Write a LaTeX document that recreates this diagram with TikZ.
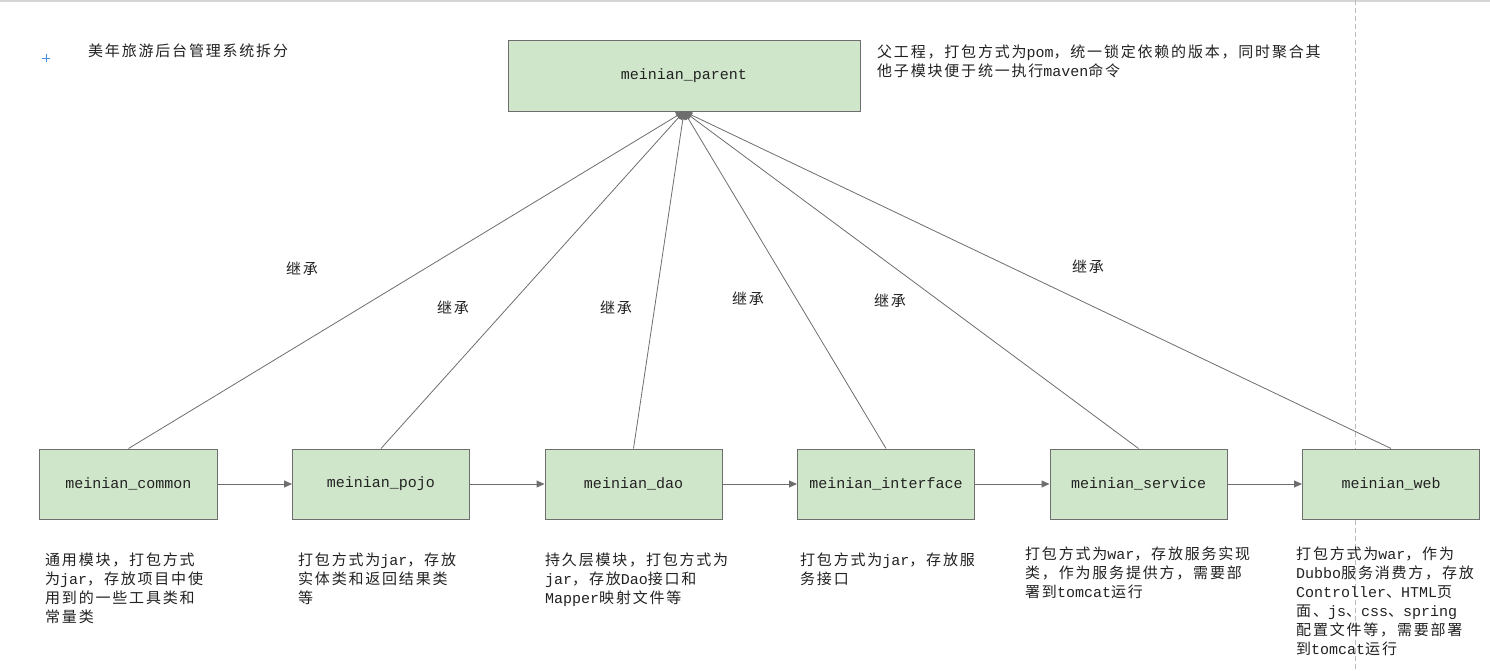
\documentclass[tikz,border=0pt]{standalone}
\usepackage{fontspec}
\setmainfont[LetterSpace=12]{Noto Sans CJK SC}
\newfontfamily\enf{Liberation Mono}
\usetikzlibrary{arrows.meta}
\definecolor{boxfill}{HTML}{D0E6CA}
\definecolor{boxline}{HTML}{6E6E6E}
\definecolor{txt}{HTML}{222222}
\definecolor{guide}{HTML}{BBBBBB}
\definecolor{crossblue}{HTML}{4A90E2}
\tikzset{
 module/.style={draw=boxline, fill=boxfill, line width=1bp, minimum width=177bp, minimum height=70bp, inner sep=0pt, font=\fontsize{15bp}{19bp}\selectfont\enf, text=txt},
 desc/.style={anchor=north west, inner sep=0pt, align=left, font=\fontsize{15bp}{19bp}\selectfont, text=txt},
 lbl/.style={inner sep=0pt, font=\fontsize{15bp}{19bp}\selectfont, text=txt},
 conn/.style={draw=boxline, line width=1bp, -{Triangle[length=8bp,width=7bp]}},
 inh/.style={draw=boxline, line width=0.8bp, -{Triangle[length=8bp,width=8bp]}},
}
\begin{document}
\begin{tikzpicture}[x=1bp,y=-1bp]
\fill[white] (0,0) rectangle (1490,671);
\useasboundingbox (0,0) rectangle (1490,671);
\draw[guide!60, line width=2bp] (0,1) -- (1490,1);
\draw[guide, line width=1bp, dash pattern=on 5bp off 3bp] (1355,0) -- (1355,671);
% cross marker
\draw[crossblue, line width=0.8bp] (42,58) -- (50,58) (46,54) -- (46,62);
\node[lbl, anchor=west] (title) at (88,51) {美年旅游后台管理系统拆分};
% parent
\node[module, minimum width=352bp] (parent) at (684,76) {meinian\_parent};
\node[desc] (ptext) at (877,45) {父工程，打包方式为{\enf pom}，统一锁定依赖的版本，同时聚合其\\他子模块便于统一执行{\enf maven}命令};
% modules
\node[module] (common) at (128.5,484) {meinian\_common};
\node[module] (pojo) at (381,484) {meinian\_pojo};
\node[module] (dao) at (633.5,484) {meinian\_dao};
\node[module] (interface) at (886,484) {meinian\_interface};
\node[module] (service) at (1138.5,484) {meinian\_service};
\node[module] (web) at (1391,484) {meinian\_web};
% horizontal
\draw[conn] (common.east) -- (pojo.west);
\draw[conn] (pojo.east) -- (dao.west);
\draw[conn] (dao.east) -- (interface.west);
\draw[conn] (interface.east) -- (service.west);
\draw[conn] (service.east) -- (web.west);
% inheritance
\draw[inh] (common.north) -- (parent.south);
\draw[inh] (pojo.north) -- (parent.south);
\draw[inh] (dao.north) -- (parent.south);
\draw[inh] (interface.north) -- (parent.south);
\draw[inh] (service.north) -- (parent.south);
\draw[inh] (web.north) -- (parent.south);
\node[lbl] (l1) at (302,269) {继承};
\node[lbl] (l2) at (453,308) {继承};
\node[lbl] (l3) at (616,308) {继承};
\node[lbl] (l4) at (748,299) {继承};
\node[lbl] (l5) at (890,301) {继承};
\node[lbl] (l6) at (1088,267) {继承};
% descriptions
\node[desc] (dcommon) at (45,553) {通用模块，打包方式\\为{\enf jar}，存放项目中使\\用到的一些工具类和\\常量类};
\node[desc] (dpojo) at (298,553) {打包方式为{\enf jar}，存放\\实体类和返回结果类\\等};
\node[desc] (ddao) at (545,553) {持久层模块，打包方式为\\{\enf jar}，存放{\enf Dao}接口和\\{\enf Mapper}映射文件等};
\node[desc] (dinterface) at (800,553) {打包方式为{\enf jar}，存放服\\务接口};
\node[desc] (dservice) at (1025,547) {打包方式为{\enf war}，存放服务实现\\类，作为服务提供方，需要部\\署到{\enf tomcat}运行};
\node[desc] (dweb) at (1296,547) {打包方式为{\enf war}，作为\\{\enf Dubbo}服务消费方，存放\\{\enf Controller}、{\enf HTML}页\\面、{\enf js}、{\enf css}、{\enf spring}\\配置文件等，需要部署\\到{\enf tomcat}运行};
\end{tikzpicture}
\end{document}
